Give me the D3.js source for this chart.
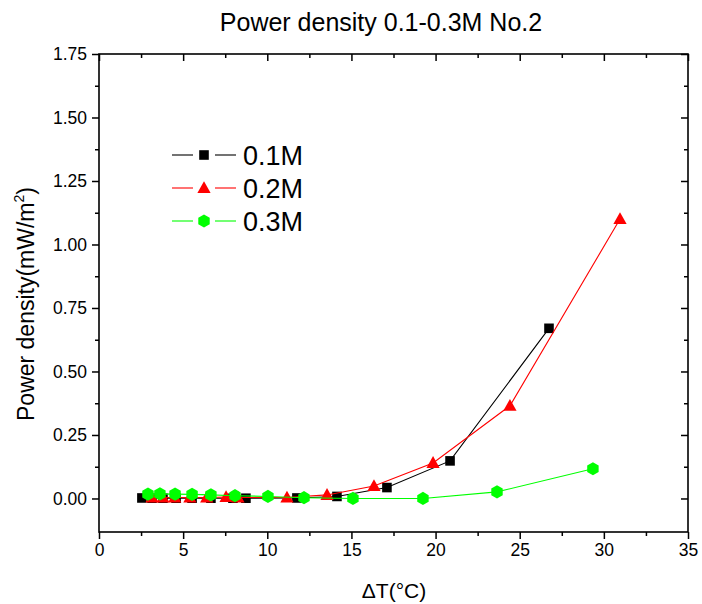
<!DOCTYPE html>
<html>
<head>
<meta charset="utf-8">
<script src="https://cdn.jsdelivr.net/npm/d3@7"></script>
<style>
  html, body { margin: 0; padding: 0; background: #fff; }
  svg { display: block; font-family: "Liberation Sans", Arial, sans-serif; }
</style>
</head>
<body>
<svg id="chart" width="702" height="604"></svg>
<script>
// Power density vs temperature difference for three concentrations
const dT_01 = [2.55, 3.15, 3.8, 4.58, 5.53, 6.65, 7.96, 8.73, 11.76, 14.14, 17.11, 20.86, 26.74];
const pd_01 = [0.002, 0.001, 0.001, 0.001, 0.001, 0.001, 0.001, 0.001, 0.002, 0.008, 0.043, 0.148, 0.67];

const dT_02 = [3.15, 3.8, 4.5, 5.4, 6.4, 7.55, 8.26, 11.17, 13.55, 16.34, 19.85, 24.42, 30.96];
const pd_02 = [0.004, 0.004, 0.004, 0.004, 0.004, 0.006, 0.004, 0.004, 0.014, 0.049, 0.14, 0.365, 1.10];

const dT_03 = [2.91, 3.62, 4.52, 5.53, 6.65, 8.08, 10.04, 12.18, 15.09, 19.25, 23.65, 29.35];
const pd_03 = [0.017, 0.018, 0.017, 0.016, 0.014, 0.011, 0.008, 0.003, 0.0, 0.0, 0.026, 0.117];

const seriesNames = ["0.1M", "0.2M", "0.3M"];
const seriesColors = ["#000000", "#ff0000", "#00ff00"];
const seriesShapes = ["square", "triangle", "hexagon"];

const xTicks = [0, 5, 10, 15, 20, 25, 30, 35];
const yTicks = [0, 0.25, 0.5, 0.75, 1.0, 1.25, 1.5, 1.75];

const titleText = "Power density 0.1-0.3M No.2";
const xTitle = "\u0394T(\u00B0C)";

const svg = d3.select("#chart");
const plotL = 99, plotR = 688, plotT = 54, plotB = 532;

const x = d3.scaleLinear().domain([0, 35]).range([plotL, plotR]);
const y = d3.scaleLinear().domain([-0.132, 1.75]).range([plotB, plotT]);

const series = [
  { name: seriesNames[0], xs: dT_01, ys: pd_01, color: seriesColors[0], shape: seriesShapes[0] },
  { name: seriesNames[1], xs: dT_02, ys: pd_02, color: seriesColors[1], shape: seriesShapes[1] },
  { name: seriesNames[2], xs: dT_03, ys: pd_03, color: seriesColors[2], shape: seriesShapes[2] }
];

// Marker path generators centred on the origin
function markerPath(shape) {
  if (shape === "square") return "M-4.8,-4.8H4.8V4.8H-4.8Z";
  if (shape === "triangle") return "M0,-6.8L6.6,5L-6.6,5Z";
  const r = 6.6, pts = [];
  for (let i = 0; i < 6; i++) {
    const a = Math.PI / 180 * (60 * i + 30);
    pts.push([r * Math.cos(a), r * Math.sin(a)]);
  }
  return "M" + pts.map(p => p.join(",")).join("L") + "Z";
}

// Title
svg.append("text")
  .attr("x", 381).attr("y", 31)
  .attr("text-anchor", "middle")
  .attr("font-size", 25)
  .text(titleText);

const xMinor = d3.range(2.5, 35, 5);
const yMinor = d3.range(0.125, 1.75, 0.25);

// Bottom and left axes: labelled, ticks pointing outward
svg.append("g").attr("transform", `translate(0,${plotB})`)
  .call(d3.axisBottom(x).tickValues(xTicks).tickFormat(d3.format("d")).tickSize(7).tickPadding(5).tickSizeOuter(0));
svg.append("g").attr("transform", `translate(${plotL},0)`)
  .call(d3.axisLeft(y).tickValues(yTicks).tickFormat(d3.format(".2f")).tickSize(7).tickPadding(5).tickSizeOuter(0));
svg.append("g").attr("transform", `translate(0,${plotB})`)
  .call(d3.axisBottom(x).tickValues(xMinor).tickFormat("").tickSize(4).tickSizeOuter(0));
svg.append("g").attr("transform", `translate(${plotL},0)`)
  .call(d3.axisLeft(y).tickValues(yMinor).tickFormat("").tickSize(4).tickSizeOuter(0));

// Top and right axes: unlabelled, ticks pointing inward
svg.append("g").attr("transform", `translate(0,${plotT})`)
  .call(d3.axisBottom(x).tickValues(xTicks).tickFormat("").tickSize(7).tickSizeOuter(0));
svg.append("g").attr("transform", `translate(0,${plotT})`)
  .call(d3.axisBottom(x).tickValues(xMinor).tickFormat("").tickSize(4).tickSizeOuter(0));
svg.append("g").attr("transform", `translate(${plotR},0)`)
  .call(d3.axisLeft(y).tickValues(yTicks).tickFormat("").tickSize(7).tickSizeOuter(0))
  .selectAll(".tick line").attr("x2", -7);
svg.append("g").attr("transform", `translate(${plotR},0)`)
  .call(d3.axisLeft(y).tickValues(yMinor).tickFormat("").tickSize(4).tickSizeOuter(0))
  .selectAll(".tick line").attr("x2", -4);

svg.selectAll(".domain").remove();
svg.selectAll(".tick line").attr("stroke", "#000").attr("stroke-width", 1.5);
svg.selectAll(".tick text").attr("font-size", 17.5).attr("fill", "#000")
  .attr("font-family", "Liberation Sans, Arial, sans-serif");

// Frame
svg.append("rect")
  .attr("x", plotL).attr("y", plotT)
  .attr("width", plotR - plotL).attr("height", plotB - plotT)
  .attr("fill", "none").attr("stroke", "#000").attr("stroke-width", 1.6);

// Axis titles
svg.append("text")
  .attr("x", 394).attr("y", 598)
  .attr("text-anchor", "middle")
  .attr("font-size", 21)
  .text(xTitle);

const yl = svg.append("text")
  .attr("transform", `translate(34,304) rotate(-90)`)
  .attr("text-anchor", "middle")
  .attr("font-size", 23);
yl.append("tspan").text("Power density(mW/m");
yl.append("tspan").attr("font-size", 14).attr("dy", -10).text("2");
yl.append("tspan").attr("dy", 10).text(")");

// Series lines and markers
const line = d3.line().x(d => x(d[0])).y(d => y(d[1]));
series.forEach(s => {
  const pts = s.xs.map((v, i) => [v, s.ys[i]]);
  svg.append("path")
    .attr("d", line(pts))
    .attr("fill", "none")
    .attr("stroke", s.color)
    .attr("stroke-width", 1.1);
  svg.append("g").selectAll("path")
    .data(pts)
    .join("path")
    .attr("d", markerPath(s.shape))
    .attr("transform", d => `translate(${x(d[0])},${y(d[1])})`)
    .attr("fill", s.color);
});

// Legend
const legend = svg.append("g");
series.forEach((s, i) => {
  const ly = 155 + i * 33;
  legend.append("line").attr("x1", 172).attr("x2", 193).attr("y1", ly).attr("y2", ly)
    .attr("stroke", s.color).attr("stroke-width", 1.1);
  legend.append("line").attr("x1", 215).attr("x2", 236).attr("y1", ly).attr("y2", ly)
    .attr("stroke", s.color).attr("stroke-width", 1.1);
  legend.append("path")
    .attr("d", markerPath(s.shape))
    .attr("transform", `translate(204,${ly})`)
    .attr("fill", s.color);
  legend.append("text")
    .attr("x", 243).attr("y", ly + 10)
    .attr("font-size", 27)
    .text(s.name);
});
</script>
</body>
</html>
